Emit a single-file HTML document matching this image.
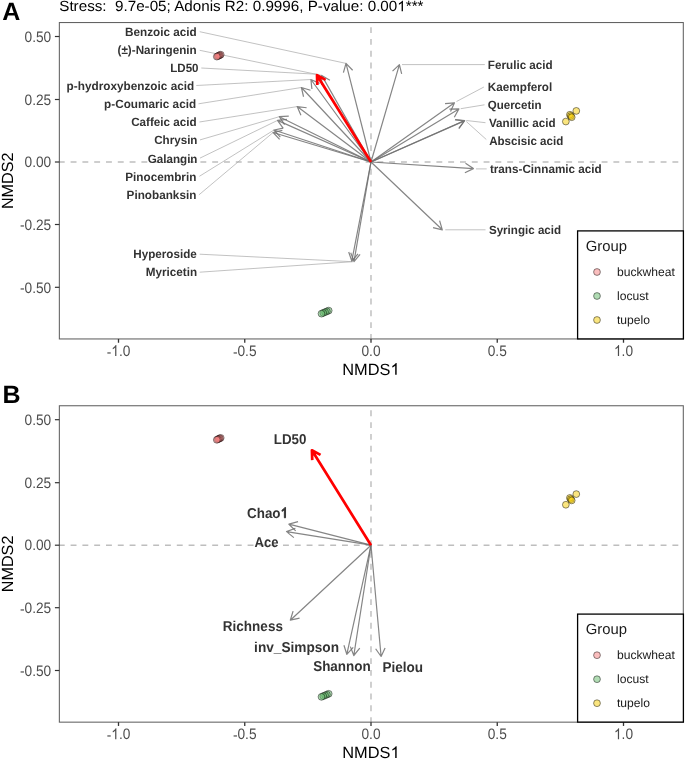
<!DOCTYPE html>
<html><head><meta charset="utf-8"><style>
html,body{margin:0;padding:0;background:#fff;width:685px;height:759px;overflow:hidden}
svg{display:block;will-change:transform}
text{font-family:"Liberation Sans",sans-serif;text-rendering:geometricPrecision}
.tick{font-size:13.3px;fill:#4D4D4D}
.h1{fill-opacity:0}
.atitle{font-size:16.2px;fill:#000}
.lab{font-size:11.5px;font-weight:bold;fill:#333}
.labB{font-size:13.1px;font-weight:bold;fill:#333}
.tag{font-size:25px;font-weight:bold;fill:#000}
.title{font-size:14.8px;fill:#000}
.ltitle{font-size:14.7px;fill:#1a1a1a}
.ltext{font-size:12.1px;fill:#1a1a1a}
</style></head><body>
<svg width="685" height="759" viewBox="0 0 685 759">
<rect width="685" height="759" fill="#fff"/>
<line x1="58.8" y1="162.0" x2="683.3" y2="162.0" stroke="#BEBEBE" stroke-width="1.45" stroke-dasharray="5.9 5.9"/>
<line x1="371.0" y1="339.84999999999997" x2="371.0" y2="22.55" stroke="#BEBEBE" stroke-width="1.45" stroke-dasharray="5.9 5.9"/>
<line x1="199.7" y1="31.7" x2="346.0" y2="63.4" stroke="#ADADAD" stroke-width="0.75"/>
<line x1="199.7" y1="50.3" x2="321.7" y2="75.4" stroke="#ADADAD" stroke-width="0.75"/>
<line x1="201.3" y1="68.0" x2="316.4" y2="74.2" stroke="#ADADAD" stroke-width="0.75"/>
<line x1="196.3" y1="85.5" x2="310.9" y2="79.5" stroke="#ADADAD" stroke-width="0.75"/>
<line x1="198.5" y1="103.8" x2="301.4" y2="87.5" stroke="#ADADAD" stroke-width="0.75"/>
<line x1="199.4" y1="122.0" x2="297.2" y2="106.6" stroke="#ADADAD" stroke-width="0.75"/>
<line x1="200.0" y1="139.9" x2="279.3" y2="116.7" stroke="#ADADAD" stroke-width="0.75"/>
<line x1="200.0" y1="158.1" x2="277.5" y2="120.4" stroke="#ADADAD" stroke-width="0.75"/>
<line x1="199.4" y1="176.3" x2="274.0" y2="130.0" stroke="#ADADAD" stroke-width="0.75"/>
<line x1="198.9" y1="194.9" x2="273.1" y2="132.5" stroke="#ADADAD" stroke-width="0.75"/>
<line x1="199.7" y1="254.2" x2="352.6" y2="261.7" stroke="#ADADAD" stroke-width="0.75"/>
<line x1="199.7" y1="272.2" x2="352.6" y2="261.7" stroke="#ADADAD" stroke-width="0.75"/>
<line x1="402.0" y1="64.6" x2="484.8" y2="64.6" stroke="#ADADAD" stroke-width="0.75"/>
<line x1="456.5" y1="101.5" x2="483.9" y2="87.0" stroke="#ADADAD" stroke-width="0.75"/>
<line x1="460.7" y1="108.7" x2="484.5" y2="104.8" stroke="#ADADAD" stroke-width="0.75"/>
<line x1="466.3" y1="120.5" x2="485.5" y2="122.7" stroke="#ADADAD" stroke-width="0.75"/>
<line x1="466.3" y1="121.5" x2="486.3" y2="139.5" stroke="#ADADAD" stroke-width="0.75"/>
<line x1="476.0" y1="168.9" x2="486.7" y2="168.9" stroke="#ADADAD" stroke-width="0.75"/>
<line x1="445.3" y1="229.8" x2="485.5" y2="229.8" stroke="#ADADAD" stroke-width="0.75"/>
<path d="M371.00,162.00L346.00,63.40M343.42,72.54L346.00,63.40L352.63,70.21" stroke="#707070" stroke-width="1.2" fill="none" stroke-opacity="0.85" stroke-linecap="butt" stroke-linejoin="round"/>
<path d="M371.00,162.00L321.70,75.40M321.64,84.90L321.70,75.40L329.90,80.20" stroke="#707070" stroke-width="1.2" fill="none" stroke-opacity="0.85" stroke-linecap="butt" stroke-linejoin="round"/>
<path d="M371.00,162.00L310.90,79.50M311.91,88.95L310.90,79.50L319.58,83.35" stroke="#707070" stroke-width="1.2" fill="none" stroke-opacity="0.85" stroke-linecap="butt" stroke-linejoin="round"/>
<path d="M371.00,162.00L301.40,87.50M303.55,96.75L301.40,87.50L310.49,90.27" stroke="#707070" stroke-width="1.2" fill="none" stroke-opacity="0.85" stroke-linecap="butt" stroke-linejoin="round"/>
<path d="M371.00,162.00L297.20,106.60M300.93,115.34L297.20,106.60L306.63,107.74" stroke="#707070" stroke-width="1.2" fill="none" stroke-opacity="0.85" stroke-linecap="butt" stroke-linejoin="round"/>
<path d="M371.00,162.00L279.30,116.70M284.57,124.60L279.30,116.70L288.78,116.09" stroke="#707070" stroke-width="1.2" fill="none" stroke-opacity="0.85" stroke-linecap="butt" stroke-linejoin="round"/>
<path d="M371.00,162.00L277.50,120.40M283.09,128.08L277.50,120.40L286.95,119.40" stroke="#707070" stroke-width="1.2" fill="none" stroke-opacity="0.85" stroke-linecap="butt" stroke-linejoin="round"/>
<path d="M371.00,162.00L274.00,130.00M280.32,137.09L274.00,130.00L283.30,128.07" stroke="#707070" stroke-width="1.2" fill="none" stroke-opacity="0.85" stroke-linecap="butt" stroke-linejoin="round"/>
<path d="M371.00,162.00L273.10,132.50M279.61,139.42L273.10,132.50L282.35,130.33" stroke="#707070" stroke-width="1.2" fill="none" stroke-opacity="0.85" stroke-linecap="butt" stroke-linejoin="round"/>
<path d="M371.00,162.00L351.80,261.00M358.03,253.83L351.80,261.00L348.70,252.02" stroke="#707070" stroke-width="1.2" fill="none" stroke-opacity="0.85" stroke-linecap="butt" stroke-linejoin="round"/>
<path d="M371.00,162.00L354.00,261.60M360.07,254.29L354.00,261.60L350.70,252.69" stroke="#707070" stroke-width="1.2" fill="none" stroke-opacity="0.85" stroke-linecap="butt" stroke-linejoin="round"/>
<path d="M371.00,162.00L399.40,64.60M392.54,71.17L399.40,64.60L401.66,73.83" stroke="#707070" stroke-width="1.2" fill="none" stroke-opacity="0.85" stroke-linecap="butt" stroke-linejoin="round"/>
<path d="M371.00,162.00L454.50,102.80M445.04,103.68L454.50,102.80L450.54,111.43" stroke="#707070" stroke-width="1.2" fill="none" stroke-opacity="0.85" stroke-linecap="butt" stroke-linejoin="round"/>
<path d="M371.00,162.00L458.90,108.90M449.40,109.09L458.90,108.90L454.31,117.22" stroke="#707070" stroke-width="1.2" fill="none" stroke-opacity="0.85" stroke-linecap="butt" stroke-linejoin="round"/>
<path d="M371.00,162.00L464.70,120.50M455.25,119.49L464.70,120.50L459.10,128.17" stroke="#707070" stroke-width="1.2" fill="none" stroke-opacity="0.85" stroke-linecap="butt" stroke-linejoin="round"/>
<path d="M371.00,162.00L464.40,120.90M454.96,119.87L464.40,120.90L458.78,128.56" stroke="#707070" stroke-width="1.2" fill="none" stroke-opacity="0.85" stroke-linecap="butt" stroke-linejoin="round"/>
<path d="M371.00,162.00L473.40,168.60M465.50,163.33L473.40,168.60L464.88,172.81" stroke="#707070" stroke-width="1.2" fill="none" stroke-opacity="0.85" stroke-linecap="butt" stroke-linejoin="round"/>
<path d="M371.00,162.00L442.30,229.80M439.61,220.69L442.30,229.80L433.06,227.57" stroke="#707070" stroke-width="1.2" fill="none" stroke-opacity="0.85" stroke-linecap="butt" stroke-linejoin="round"/>
<path d="M371.00,162.00L317.00,75.20M317.32,84.99L317.00,75.20L325.64,79.82" stroke="#FF0000" stroke-width="2.7" fill="none" stroke-opacity="1.0" stroke-linecap="butt" stroke-linejoin="round"/>
<circle cx="220.70" cy="54.70" r="3.4" fill="rgb(245,125,125)" fill-opacity="0.5" stroke="#000" stroke-opacity="0.6" stroke-width="0.75"/>
<circle cx="219.72" cy="55.18" r="3.4" fill="rgb(245,125,125)" fill-opacity="0.5" stroke="#000" stroke-opacity="0.6" stroke-width="0.75"/>
<circle cx="218.75" cy="55.65" r="3.4" fill="rgb(245,125,125)" fill-opacity="0.5" stroke="#000" stroke-opacity="0.6" stroke-width="0.75"/>
<circle cx="217.78" cy="56.12" r="3.4" fill="rgb(245,125,125)" fill-opacity="0.5" stroke="#000" stroke-opacity="0.6" stroke-width="0.75"/>
<circle cx="216.80" cy="56.60" r="3.4" fill="rgb(245,125,125)" fill-opacity="0.5" stroke="#000" stroke-opacity="0.6" stroke-width="0.75"/>
<circle cx="328.70" cy="310.60" r="3.4" fill="rgb(100,185,105)" fill-opacity="0.5" stroke="#000" stroke-opacity="0.6" stroke-width="0.75"/>
<circle cx="326.90" cy="311.36" r="3.4" fill="rgb(100,185,105)" fill-opacity="0.5" stroke="#000" stroke-opacity="0.6" stroke-width="0.75"/>
<circle cx="325.10" cy="312.12" r="3.4" fill="rgb(100,185,105)" fill-opacity="0.5" stroke="#000" stroke-opacity="0.6" stroke-width="0.75"/>
<circle cx="323.30" cy="312.89" r="3.4" fill="rgb(100,185,105)" fill-opacity="0.5" stroke="#000" stroke-opacity="0.6" stroke-width="0.75"/>
<circle cx="321.50" cy="313.65" r="3.4" fill="rgb(100,185,105)" fill-opacity="0.5" stroke="#000" stroke-opacity="0.6" stroke-width="0.75"/>
<circle cx="576.30" cy="110.90" r="3.4" fill="rgb(245,203,0)" fill-opacity="0.5" stroke="#000" stroke-opacity="0.6" stroke-width="0.75"/>
<circle cx="569.90" cy="114.75" r="3.4" fill="rgb(245,203,0)" fill-opacity="0.5" stroke="#000" stroke-opacity="0.6" stroke-width="0.75"/>
<circle cx="570.80" cy="116.00" r="3.4" fill="rgb(245,203,0)" fill-opacity="0.5" stroke="#000" stroke-opacity="0.6" stroke-width="0.75"/>
<circle cx="571.70" cy="117.20" r="3.4" fill="rgb(245,203,0)" fill-opacity="0.5" stroke="#000" stroke-opacity="0.6" stroke-width="0.75"/>
<circle cx="565.85" cy="121.55" r="3.4" fill="rgb(245,203,0)" fill-opacity="0.5" stroke="#000" stroke-opacity="0.6" stroke-width="0.75"/>
<text transform="translate(124.96,36.20) scale(1,1.04)" textLength="71.76" lengthAdjust="spacingAndGlyphs" class="lab">Benzoic acid</text>
<text transform="translate(117.57,54.20) scale(1,1.04)" textLength="79.11" lengthAdjust="spacingAndGlyphs" class="lab">(±)-Naringenin</text>
<text transform="translate(170.28,72.10) scale(1,1.04)" textLength="28.25" lengthAdjust="spacingAndGlyphs" class="lab">LD50</text>
<text transform="translate(66.57,89.70) scale(1,1.04)" textLength="127.65" lengthAdjust="spacingAndGlyphs" class="lab">p-hydroxybenzoic acid</text>
<text transform="translate(104.08,108.10) scale(1,1.04)" textLength="92.05" lengthAdjust="spacingAndGlyphs" class="lab">p-Coumaric acid</text>
<text transform="translate(131.17,126.00) scale(1,1.04)" textLength="65.55" lengthAdjust="spacingAndGlyphs" class="lab">Caffeic acid</text>
<text transform="translate(154.17,144.20) scale(1,1.04)" textLength="43.30" lengthAdjust="spacingAndGlyphs" class="lab">Chrysin</text>
<text transform="translate(147.77,162.50) scale(1,1.04)" textLength="49.70" lengthAdjust="spacingAndGlyphs" class="lab">Galangin</text>
<text transform="translate(125.26,180.60) scale(1,1.04)" textLength="71.11" lengthAdjust="spacingAndGlyphs" class="lab">Pinocembrin</text>
<text transform="translate(126.56,199.10) scale(1,1.04)" textLength="69.81" lengthAdjust="spacingAndGlyphs" class="lab">Pinobanksin</text>
<text transform="translate(133.27,258.00) scale(1,1.04)" textLength="63.58" lengthAdjust="spacingAndGlyphs" class="lab">Hyperoside</text>
<text transform="translate(145.77,276.40) scale(1,1.04)" textLength="51.41" lengthAdjust="spacingAndGlyphs" class="lab">Myricetin</text>
<text transform="translate(487.87,68.80) scale(1,1.04)" textLength="64.85" lengthAdjust="spacingAndGlyphs" class="lab">Ferulic acid</text>
<text transform="translate(487.87,90.70) scale(1,1.04)" textLength="64.41" lengthAdjust="spacingAndGlyphs" class="lab">Kaempferol</text>
<text transform="translate(487.68,108.60) scale(1,1.04)" textLength="53.89" lengthAdjust="spacingAndGlyphs" class="lab">Quercetin</text>
<text transform="translate(488.97,126.80) scale(1,1.04)" textLength="66.54" lengthAdjust="spacingAndGlyphs" class="lab">Vanillic acid</text>
<text transform="translate(489.16,145.20) scale(1,1.04)" textLength="74.15" lengthAdjust="spacingAndGlyphs" class="lab">Abscisic acid</text>
<text transform="translate(489.91,172.70) scale(1,1.04)" textLength="111.81" lengthAdjust="spacingAndGlyphs" class="lab">trans-Cinnamic acid</text>
<text transform="translate(488.92,234.30) scale(1,1.04)" textLength="72.20" lengthAdjust="spacingAndGlyphs" class="lab">Syringic acid</text>
<rect x="59.35" y="22.55" width="623.95" height="316.40" fill="none" stroke="#606060" stroke-width="1.05"/>
<line x1="54.9" y1="36.50" x2="59.35" y2="36.50" stroke="#333" stroke-width="1.2"/>
<text transform="translate(51.2,41.75) scale(1.03,1.14)" text-anchor="end" class="tick">0.50</text>
<line x1="54.9" y1="99.50" x2="59.35" y2="99.50" stroke="#333" stroke-width="1.2"/>
<text transform="translate(51.2,104.75) scale(1.03,1.14)" text-anchor="end" class="tick">0.25</text>
<line x1="54.9" y1="162.00" x2="59.35" y2="162.00" stroke="#333" stroke-width="1.2"/>
<text transform="translate(51.2,167.25) scale(1.03,1.14)" text-anchor="end" class="tick">0.00</text>
<line x1="54.9" y1="224.50" x2="59.35" y2="224.50" stroke="#333" stroke-width="1.2"/>
<text transform="translate(51.2,229.75) scale(1.03,1.14)" text-anchor="end" class="tick"><tspan dy="0.55">-</tspan><tspan dy="-0.55">0.25</tspan></text>
<line x1="54.9" y1="287.30" x2="59.35" y2="287.30" stroke="#333" stroke-width="1.2"/>
<text transform="translate(51.2,292.55) scale(1.03,1.14)" text-anchor="end" class="tick"><tspan dy="0.55">-</tspan><tspan dy="-0.55">0.50</tspan></text>
<line x1="118.50" y1="338.95" x2="118.50" y2="342.75" stroke="#333" stroke-width="1.3"/>
<text transform="translate(118.50,356.05) scale(1.03,1.14)" text-anchor="middle" class="tick"><tspan dy="0.55">-</tspan><tspan dy="-0.55"><tspan class="h1">1</tspan>.0</tspan></text>
<line x1="244.75" y1="338.95" x2="244.75" y2="342.75" stroke="#333" stroke-width="1.3"/>
<text transform="translate(244.75,356.05) scale(1.03,1.14)" text-anchor="middle" class="tick"><tspan dy="0.55">-</tspan><tspan dy="-0.55">0.5</tspan></text>
<line x1="371.00" y1="338.95" x2="371.00" y2="342.75" stroke="#333" stroke-width="1.3"/>
<text transform="translate(371.00,356.05) scale(1.03,1.14)" text-anchor="middle" class="tick">0.0</text>
<line x1="497.25" y1="338.95" x2="497.25" y2="342.75" stroke="#333" stroke-width="1.3"/>
<text transform="translate(497.25,356.05) scale(1.03,1.14)" text-anchor="middle" class="tick">0.5</text>
<line x1="623.50" y1="338.95" x2="623.50" y2="342.75" stroke="#333" stroke-width="1.3"/>
<text transform="translate(623.50,356.05) scale(1.03,1.14)" text-anchor="middle" class="tick"><tspan class="h1">1</tspan>.0</text>
<text x="342.31" y="374.75" textLength="57.34" lengthAdjust="spacingAndGlyphs" class="atitle">NMDS<tspan class="h1">1</tspan></text>
<text transform="translate(12.8,180.75) rotate(-90)" x="0" y="0" text-anchor="middle" class="atitle">NMDS2</text>
<rect x="577.6" y="230.9" width="105.8" height="108" fill="#fff" stroke="#000" stroke-width="1.3"/>
<text x="585.80" y="250.70" textLength="41.27" lengthAdjust="spacingAndGlyphs" class="ltitle">Group</text>
<circle cx="597.0" cy="272" r="3.4" fill="rgb(245,125,125)" fill-opacity="0.5" stroke="#000" stroke-opacity="0.6" stroke-width="0.75"/>
<text x="617" y="276.20" class="ltext">buckwheat</text>
<circle cx="597.0" cy="296" r="3.4" fill="rgb(100,185,105)" fill-opacity="0.5" stroke="#000" stroke-opacity="0.6" stroke-width="0.75"/>
<text x="617" y="300.20" class="ltext">locust</text>
<circle cx="597.0" cy="320" r="3.4" fill="rgb(245,203,0)" fill-opacity="0.5" stroke="#000" stroke-opacity="0.6" stroke-width="0.75"/>
<text x="617" y="324.20" class="ltext">tupelo</text>
<text x="2.3" y="19.7" class="tag">A</text>
<text x="59.26" y="11.35" textLength="364.23" lengthAdjust="spacingAndGlyphs" class="title" xml:space="preserve">Stress:  9.7e-05; Adonis R2: 0.9996, P-value: 0.00<tspan class="h1">1</tspan>***</text>
<line x1="58.8" y1="545.2" x2="683.3" y2="545.2" stroke="#BEBEBE" stroke-width="1.45" stroke-dasharray="5.9 5.9"/>
<line x1="371.0" y1="723.05" x2="371.0" y2="405.75" stroke="#BEBEBE" stroke-width="1.45" stroke-dasharray="5.9 5.9"/>
<path d="M371.00,545.20L288.90,524.20M295.69,530.84L288.90,524.20L298.05,521.64" stroke="#707070" stroke-width="1.2" fill="none" stroke-opacity="0.85" stroke-linecap="butt" stroke-linejoin="round"/>
<path d="M371.00,545.20L286.50,531.60M293.87,537.60L286.50,531.60L295.38,528.22" stroke="#707070" stroke-width="1.2" fill="none" stroke-opacity="0.85" stroke-linecap="butt" stroke-linejoin="round"/>
<path d="M371.00,545.20L290.30,620.20M299.56,618.08L290.30,620.20L293.09,611.12" stroke="#707070" stroke-width="1.2" fill="none" stroke-opacity="0.85" stroke-linecap="butt" stroke-linejoin="round"/>
<path d="M371.00,545.20L346.80,654.30M353.22,647.30L346.80,654.30L343.94,645.24" stroke="#707070" stroke-width="1.2" fill="none" stroke-opacity="0.85" stroke-linecap="butt" stroke-linejoin="round"/>
<path d="M371.00,545.20L353.80,655.50M359.76,648.10L353.80,655.50L350.37,646.64" stroke="#707070" stroke-width="1.2" fill="none" stroke-opacity="0.85" stroke-linecap="butt" stroke-linejoin="round"/>
<path d="M371.00,545.20L381.10,656.50M385.09,647.88L381.10,656.50L375.63,648.74" stroke="#707070" stroke-width="1.2" fill="none" stroke-opacity="0.85" stroke-linecap="butt" stroke-linejoin="round"/>
<path d="M371.00,545.20L311.90,450.30M312.23,460.09L311.90,450.30L320.55,454.91" stroke="#FF0000" stroke-width="2.7" fill="none" stroke-opacity="1.0" stroke-linecap="butt" stroke-linejoin="round"/>
<circle cx="220.70" cy="437.90" r="3.4" fill="rgb(245,125,125)" fill-opacity="0.5" stroke="#000" stroke-opacity="0.6" stroke-width="0.75"/>
<circle cx="219.72" cy="438.38" r="3.4" fill="rgb(245,125,125)" fill-opacity="0.5" stroke="#000" stroke-opacity="0.6" stroke-width="0.75"/>
<circle cx="218.75" cy="438.85" r="3.4" fill="rgb(245,125,125)" fill-opacity="0.5" stroke="#000" stroke-opacity="0.6" stroke-width="0.75"/>
<circle cx="217.78" cy="439.32" r="3.4" fill="rgb(245,125,125)" fill-opacity="0.5" stroke="#000" stroke-opacity="0.6" stroke-width="0.75"/>
<circle cx="216.80" cy="439.80" r="3.4" fill="rgb(245,125,125)" fill-opacity="0.5" stroke="#000" stroke-opacity="0.6" stroke-width="0.75"/>
<circle cx="328.70" cy="693.80" r="3.4" fill="rgb(100,185,105)" fill-opacity="0.5" stroke="#000" stroke-opacity="0.6" stroke-width="0.75"/>
<circle cx="326.90" cy="694.56" r="3.4" fill="rgb(100,185,105)" fill-opacity="0.5" stroke="#000" stroke-opacity="0.6" stroke-width="0.75"/>
<circle cx="325.10" cy="695.33" r="3.4" fill="rgb(100,185,105)" fill-opacity="0.5" stroke="#000" stroke-opacity="0.6" stroke-width="0.75"/>
<circle cx="323.30" cy="696.09" r="3.4" fill="rgb(100,185,105)" fill-opacity="0.5" stroke="#000" stroke-opacity="0.6" stroke-width="0.75"/>
<circle cx="321.50" cy="696.85" r="3.4" fill="rgb(100,185,105)" fill-opacity="0.5" stroke="#000" stroke-opacity="0.6" stroke-width="0.75"/>
<circle cx="576.30" cy="494.10" r="3.4" fill="rgb(245,203,0)" fill-opacity="0.5" stroke="#000" stroke-opacity="0.6" stroke-width="0.75"/>
<circle cx="569.90" cy="497.95" r="3.4" fill="rgb(245,203,0)" fill-opacity="0.5" stroke="#000" stroke-opacity="0.6" stroke-width="0.75"/>
<circle cx="570.80" cy="499.20" r="3.4" fill="rgb(245,203,0)" fill-opacity="0.5" stroke="#000" stroke-opacity="0.6" stroke-width="0.75"/>
<circle cx="571.70" cy="500.40" r="3.4" fill="rgb(245,203,0)" fill-opacity="0.5" stroke="#000" stroke-opacity="0.6" stroke-width="0.75"/>
<circle cx="565.85" cy="504.75" r="3.4" fill="rgb(245,203,0)" fill-opacity="0.5" stroke="#000" stroke-opacity="0.6" stroke-width="0.75"/>
<text transform="translate(273.76,444.00) scale(1,1.09)" textLength="32.64" lengthAdjust="spacingAndGlyphs" class="labB">LD50</text>
<text transform="translate(247.00,517.80) scale(1,1.09)" textLength="41.02" lengthAdjust="spacingAndGlyphs" class="labB">Chao<tspan class="h1">1</tspan></text>
<text transform="translate(254.62,546.90) scale(1,1.09)" textLength="23.97" lengthAdjust="spacingAndGlyphs" class="labB">Ace</text>
<text transform="translate(222.85,630.80) scale(1,1.09)" textLength="60.06" lengthAdjust="spacingAndGlyphs" class="labB">Richness</text>
<text transform="translate(254.10,651.50) scale(1,1.09)" textLength="84.90" lengthAdjust="spacingAndGlyphs" class="labB">inv_Simpson</text>
<text transform="translate(313.16,670.50) scale(1,1.09)" textLength="57.62" lengthAdjust="spacingAndGlyphs" class="labB">Shannon</text>
<text transform="translate(382.44,671.80) scale(1,1.09)" textLength="40.60" lengthAdjust="spacingAndGlyphs" class="labB">Pielou</text>
<rect x="59.35" y="405.75" width="623.95" height="316.40" fill="none" stroke="#606060" stroke-width="1.05"/>
<line x1="54.9" y1="419.70" x2="59.35" y2="419.70" stroke="#333" stroke-width="1.2"/>
<text transform="translate(51.2,424.95) scale(1.03,1.14)" text-anchor="end" class="tick">0.50</text>
<line x1="54.9" y1="482.70" x2="59.35" y2="482.70" stroke="#333" stroke-width="1.2"/>
<text transform="translate(51.2,487.95) scale(1.03,1.14)" text-anchor="end" class="tick">0.25</text>
<line x1="54.9" y1="545.20" x2="59.35" y2="545.20" stroke="#333" stroke-width="1.2"/>
<text transform="translate(51.2,550.45) scale(1.03,1.14)" text-anchor="end" class="tick">0.00</text>
<line x1="54.9" y1="607.70" x2="59.35" y2="607.70" stroke="#333" stroke-width="1.2"/>
<text transform="translate(51.2,612.95) scale(1.03,1.14)" text-anchor="end" class="tick"><tspan dy="0.55">-</tspan><tspan dy="-0.55">0.25</tspan></text>
<line x1="54.9" y1="670.50" x2="59.35" y2="670.50" stroke="#333" stroke-width="1.2"/>
<text transform="translate(51.2,675.75) scale(1.03,1.14)" text-anchor="end" class="tick"><tspan dy="0.55">-</tspan><tspan dy="-0.55">0.50</tspan></text>
<line x1="118.50" y1="722.15" x2="118.50" y2="725.95" stroke="#333" stroke-width="1.3"/>
<text transform="translate(118.50,739.25) scale(1.03,1.14)" text-anchor="middle" class="tick"><tspan dy="0.55">-</tspan><tspan dy="-0.55"><tspan class="h1">1</tspan>.0</tspan></text>
<line x1="244.75" y1="722.15" x2="244.75" y2="725.95" stroke="#333" stroke-width="1.3"/>
<text transform="translate(244.75,739.25) scale(1.03,1.14)" text-anchor="middle" class="tick"><tspan dy="0.55">-</tspan><tspan dy="-0.55">0.5</tspan></text>
<line x1="371.00" y1="722.15" x2="371.00" y2="725.95" stroke="#333" stroke-width="1.3"/>
<text transform="translate(371.00,739.25) scale(1.03,1.14)" text-anchor="middle" class="tick">0.0</text>
<line x1="497.25" y1="722.15" x2="497.25" y2="725.95" stroke="#333" stroke-width="1.3"/>
<text transform="translate(497.25,739.25) scale(1.03,1.14)" text-anchor="middle" class="tick">0.5</text>
<line x1="623.50" y1="722.15" x2="623.50" y2="725.95" stroke="#333" stroke-width="1.3"/>
<text transform="translate(623.50,739.25) scale(1.03,1.14)" text-anchor="middle" class="tick"><tspan class="h1">1</tspan>.0</text>
<text x="342.31" y="757.95" textLength="57.34" lengthAdjust="spacingAndGlyphs" class="atitle">NMDS<tspan class="h1">1</tspan></text>
<text transform="translate(12.8,563.95) rotate(-90)" x="0" y="0" text-anchor="middle" class="atitle">NMDS2</text>
<rect x="577.6" y="614.1" width="105.8" height="108" fill="#fff" stroke="#000" stroke-width="1.3"/>
<text x="585.80" y="633.90" textLength="41.27" lengthAdjust="spacingAndGlyphs" class="ltitle">Group</text>
<circle cx="597.0" cy="655.2" r="3.4" fill="rgb(245,125,125)" fill-opacity="0.5" stroke="#000" stroke-opacity="0.6" stroke-width="0.75"/>
<text x="617" y="659.40" class="ltext">buckwheat</text>
<circle cx="597.0" cy="679.2" r="3.4" fill="rgb(100,185,105)" fill-opacity="0.5" stroke="#000" stroke-opacity="0.6" stroke-width="0.75"/>
<text x="617" y="683.40" class="ltext">locust</text>
<circle cx="597.0" cy="703.2" r="3.4" fill="rgb(245,203,0)" fill-opacity="0.5" stroke="#000" stroke-opacity="0.6" stroke-width="0.75"/>
<text x="617" y="707.40" class="ltext">tupelo</text>
<text x="2.55" y="403.3" class="tag">B</text>
<path transform="translate(118.50,356.05) scale(1.03,1.14) translate(-7.03,0.00) scale(0.00650,-0.00649)" d="M763,0L583,0L583,1147Q518,1085 412,1023Q306,961 221,930L221,1104Q376,1177 492,1281Q608,1385 657,1483L763,1483Z" fill="rgb(77, 77, 77)"/>
<path transform="translate(623.50,356.05) scale(1.03,1.14) translate(-9.25,0.00) scale(0.00650,-0.00649)" d="M763,0L583,0L583,1147Q518,1085 412,1023Q306,961 221,930L221,1104Q376,1177 492,1281Q608,1385 657,1483L763,1483Z" fill="rgb(77, 77, 77)"/>
<path transform=" translate(390.53,374.75) scale(0.00801,-0.00791)" d="M763,0L583,0L583,1147Q518,1085 412,1023Q306,961 221,930L221,1104Q376,1177 492,1281Q608,1385 657,1483L763,1483Z" fill="rgb(0, 0, 0)"/>
<path transform=" translate(397.28,11.35) scale(0.00743,-0.00723)" d="M763,0L583,0L583,1147Q518,1085 412,1023Q306,961 221,930L221,1104Q376,1177 492,1281Q608,1385 657,1483L763,1483Z" fill="rgb(0, 0, 0)"/>
<path transform="translate(247.00,517.80) scale(1,1.09) translate(33.54,0.00) scale(0.00656,-0.00640)" d="M763,0L583,0L583,1147Q518,1085 412,1023Q306,961 221,930L221,1104Q376,1177 492,1281Q608,1385 657,1483L763,1483Z" fill="rgb(51, 51, 51)" stroke="rgb(51, 51, 51)" stroke-width="141"/>
<path transform="translate(118.50,739.25) scale(1.03,1.14) translate(-7.03,0.00) scale(0.00650,-0.00649)" d="M763,0L583,0L583,1147Q518,1085 412,1023Q306,961 221,930L221,1104Q376,1177 492,1281Q608,1385 657,1483L763,1483Z" fill="rgb(77, 77, 77)"/>
<path transform="translate(623.50,739.25) scale(1.03,1.14) translate(-9.25,0.00) scale(0.00650,-0.00649)" d="M763,0L583,0L583,1147Q518,1085 412,1023Q306,961 221,930L221,1104Q376,1177 492,1281Q608,1385 657,1483L763,1483Z" fill="rgb(77, 77, 77)"/>
<path transform=" translate(390.53,757.95) scale(0.00801,-0.00791)" d="M763,0L583,0L583,1147Q518,1085 412,1023Q306,961 221,930L221,1104Q376,1177 492,1281Q608,1385 657,1483L763,1483Z" fill="rgb(0, 0, 0)"/>
</svg>
</body></html>
